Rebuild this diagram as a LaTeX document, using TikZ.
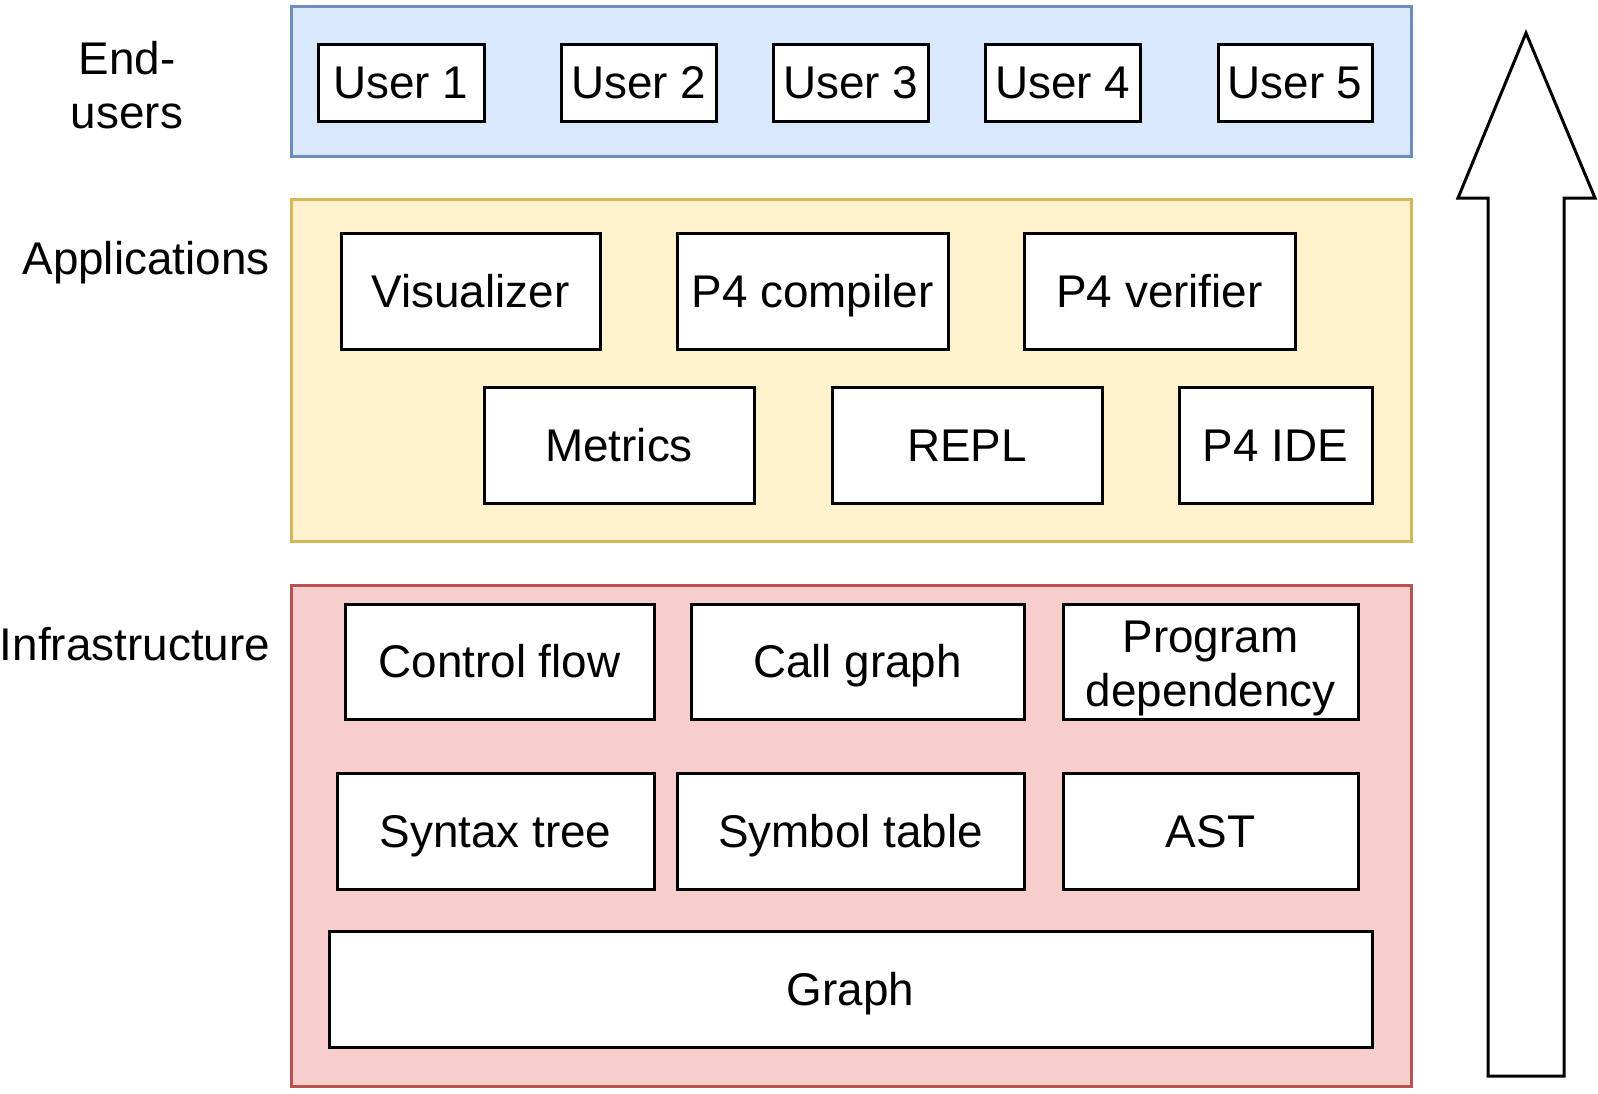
\documentclass[tikz,border=0pt]{standalone}
\usepackage{fontspec}
\setmainfont{Liberation Sans}
\definecolor{userfill}{HTML}{DAE8FC}
\definecolor{userline}{HTML}{6C8EBF}
\definecolor{appfill}{HTML}{FFF2CC}
\definecolor{appline}{HTML}{D6B656}
\definecolor{infrafill}{HTML}{F8CECC}
\definecolor{infraline}{HTML}{B85450}
\tikzset{
  sz/.style 2 args={minimum width=#1*0.6pt, minimum height=#2*0.6pt},
  layer/.style={draw, line width=1.8pt, inner sep=0pt},
  box/.style={draw, fill=white, line width=1.8pt, inner sep=0pt, align=center,
    font=\fontsize{27.5}{32.4}\selectfont},
  blk/.style={box, text height=19.7pt, text depth=0pt},
  lbl/.style={inner sep=0pt, align=center, font=\fontsize{27.5}{32.4}\selectfont}
}
\begin{document}
\begin{tikzpicture}[x=0.6pt, y=-0.6pt]
            \useasboundingbox (0,0) rectangle (1598,1093);

            % layers
            \node[layer, sz={1120}{150}, fill=userfill, draw=userline] (users) at (851,81) {};
            \node[layer, sz={1120}{342}, fill=appfill, draw=appline] (apps) at (851,370) {};
            \node[layer, sz={1120}{501}, fill=infrafill, draw=infraline] (infra) at (851,835.5) {};

            \node[lbl] (lusers) at (127,85) {End-\\users};
            \node[lbl, text height=19.7pt, text depth=0pt] (lapps) at (146,258) {Applications};
            \node[lbl, text height=19.7pt, text depth=0pt] (linfra) at (135,644) {Infrastructure};

            % end-users
            \node[blk, sz={166}{77}] (u1) at (401,82.5) {User 1};
            \node[blk, sz={155}{77}] (u2) at (638.5,82.5) {User 2};
            \node[blk, sz={155}{77}] (u3) at (850.5,82.5) {User 3};
            \node[blk, sz={155}{77}] (u4) at (1062.5,82.5) {User 4};
            \node[blk, sz={154}{77}] (u5) at (1295,82.5) {User 5};

            % applications
            \node[blk, sz={259}{116}] (vis) at (470.5,291) {Visualizer};
            \node[blk, sz={271}{116}] (comp) at (812.5,291) {P4 compiler};
            \node[blk, sz={271}{116}] (verif) at (1159.5,291) {P4 verifier};
            \node[blk, sz={270}{116}] (metrics) at (619,445) {Metrics};
            \node[blk, sz={270}{116}] (repl) at (967,445) {REPL};
            \node[blk, sz={193}{116}] (ide) at (1275.5,445) {P4 IDE};

            % infrastructure
            \node[blk, sz={309}{115}] (cf) at (499.5,661.5) {Control flow};
            \node[blk, sz={333}{115}] (cg) at (857.5,661.5) {Call graph};
            \node[box, sz={295}{115}] (pd) at (1210.5,661.5)
              {\raisebox{-4.5pt}[\height][\depth]{\begin{tabular}{@{}c@{}}Program\\dependency\end{tabular}}};
            \node[blk, sz={317}{116}] (st) at (495.5,831) {Syntax tree};
            \node[blk, sz={347}{116}] (sym) at (850.5,831) {Symbol table};
            \node[blk, sz={295}{116}] (ast) at (1210.5,831) {AST};
            \node[blk, sz={1043}{116}] (graph) at (850.5,989) {Graph};

            % big arrow
            \draw[line width=1.8pt, fill=white, line join=miter]
              (1526,33) -- (1595,198) -- (1564,198) -- (1564,1076)
              -- (1488,1076) -- (1488,198) -- (1458,198) -- cycle;
        \end{tikzpicture}
\end{document}
